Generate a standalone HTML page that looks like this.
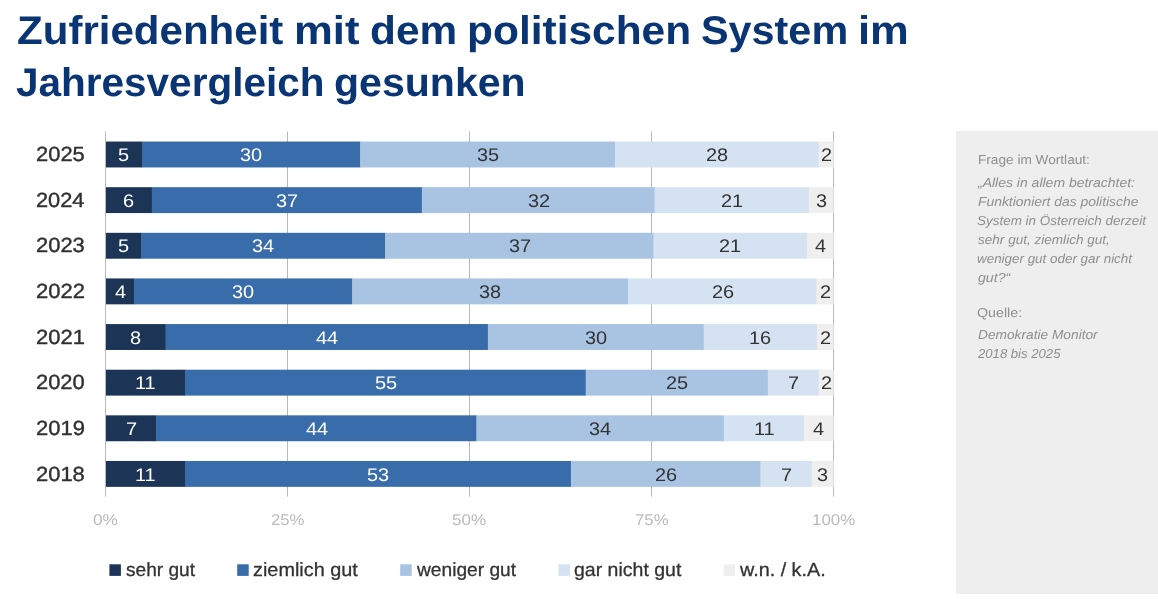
<!DOCTYPE html>
<html lang="de"><head><meta charset="utf-8"><title>Zufriedenheit mit dem politischen System im Jahresvergleich gesunken</title>
<style>
html,body{margin:0;padding:0;background:#fff;}
body{width:1158px;height:599px;position:relative;overflow:hidden;font-family:"Liberation Sans",sans-serif;}
.t{position:absolute;white-space:nowrap;line-height:1;transform-origin:0 0;text-rendering:geometricPrecision;}
svg{position:absolute;left:0;top:0;}
.side{position:absolute;left:956px;top:130.6px;width:202px;height:463.3px;background:#eeeeee;}
</style></head><body>
<div class="side"></div>
<svg width="1158" height="599" viewBox="0 0 1158 599">
<rect x="105.0" y="131.3" width="1" height="365.4" fill="#b9b9b9"/>
<rect x="287.0" y="131.3" width="1" height="365.4" fill="#b9b9b9"/>
<rect x="469.0" y="131.3" width="1" height="365.4" fill="#b9b9b9"/>
<rect x="651.0" y="131.3" width="1" height="365.4" fill="#b9b9b9"/>
<rect x="833.0" y="131.3" width="1" height="365.4" fill="#b9b9b9"/>
<rect x="106.00" y="141.55" width="36.26" height="25.9" fill="#1c3557"/>
<rect x="141.96" y="141.55" width="218.57" height="25.9" fill="#386cab"/>
<rect x="360.23" y="141.55" width="255.03" height="25.9" fill="#a9c3e2"/>
<rect x="614.96" y="141.55" width="204.08" height="25.9" fill="#d5e2f1"/>
<rect x="818.74" y="141.55" width="14.96" height="25.9" fill="#efefef"/>
<rect x="106.00" y="187.18" width="46.16" height="25.9" fill="#1c3557"/>
<rect x="151.86" y="187.18" width="270.31" height="25.9" fill="#386cab"/>
<rect x="421.87" y="187.18" width="233.05" height="25.9" fill="#a9c3e2"/>
<rect x="654.63" y="187.18" width="154.45" height="25.9" fill="#d5e2f1"/>
<rect x="808.77" y="187.18" width="24.93" height="25.9" fill="#efefef"/>
<rect x="106.00" y="232.81" width="35.32" height="25.9" fill="#1c3557"/>
<rect x="141.02" y="232.81" width="244.40" height="25.9" fill="#386cab"/>
<rect x="385.12" y="232.81" width="268.71" height="25.9" fill="#a9c3e2"/>
<rect x="653.53" y="232.81" width="153.57" height="25.9" fill="#d5e2f1"/>
<rect x="806.81" y="232.81" width="26.89" height="25.9" fill="#efefef"/>
<rect x="106.00" y="278.44" width="28.40" height="25.9" fill="#1c3557"/>
<rect x="134.10" y="278.44" width="218.42" height="25.9" fill="#386cab"/>
<rect x="352.22" y="278.44" width="276.14" height="25.9" fill="#a9c3e2"/>
<rect x="628.06" y="278.44" width="188.80" height="25.9" fill="#d5e2f1"/>
<rect x="816.56" y="278.44" width="17.14" height="25.9" fill="#efefef"/>
<rect x="106.00" y="324.07" width="59.92" height="25.9" fill="#1c3557"/>
<rect x="165.62" y="324.07" width="322.57" height="25.9" fill="#386cab"/>
<rect x="487.89" y="324.07" width="216.17" height="25.9" fill="#a9c3e2"/>
<rect x="703.75" y="324.07" width="113.55" height="25.9" fill="#d5e2f1"/>
<rect x="817.00" y="324.07" width="16.70" height="25.9" fill="#efefef"/>
<rect x="106.00" y="369.70" width="79.28" height="25.9" fill="#1c3557"/>
<rect x="184.98" y="369.70" width="401.03" height="25.9" fill="#386cab"/>
<rect x="585.70" y="369.70" width="182.40" height="25.9" fill="#a9c3e2"/>
<rect x="767.80" y="369.70" width="51.17" height="25.9" fill="#d5e2f1"/>
<rect x="818.67" y="369.70" width="15.03" height="25.9" fill="#efefef"/>
<rect x="106.00" y="415.33" width="50.38" height="25.9" fill="#1c3557"/>
<rect x="156.08" y="415.33" width="320.68" height="25.9" fill="#386cab"/>
<rect x="476.46" y="415.33" width="247.68" height="25.9" fill="#a9c3e2"/>
<rect x="723.84" y="415.33" width="80.36" height="25.9" fill="#d5e2f1"/>
<rect x="803.90" y="415.33" width="29.80" height="25.9" fill="#efefef"/>
<rect x="106.00" y="460.96" width="79.28" height="25.9" fill="#1c3557"/>
<rect x="184.98" y="460.96" width="386.25" height="25.9" fill="#386cab"/>
<rect x="570.93" y="460.96" width="189.89" height="25.9" fill="#a9c3e2"/>
<rect x="760.52" y="460.96" width="51.61" height="25.9" fill="#d5e2f1"/>
<rect x="811.83" y="460.96" width="21.87" height="25.9" fill="#efefef"/>
<rect x="109.4" y="564.3" width="11.5" height="11.6" fill="#1c3557"/>
<rect x="237.2" y="564.3" width="11.5" height="11.6" fill="#386cab"/>
<rect x="400.2" y="564.3" width="11.5" height="11.6" fill="#a9c3e2"/>
<rect x="558.4" y="564.3" width="11.5" height="11.6" fill="#d5e2f1"/>
<rect x="723.6" y="564.3" width="11.5" height="11.6" fill="#efefef"/>
</svg>
<span class="t" style="left:16.96px;top:10.90px;font-size:40px;color:#0a3575;transform:scaleX(1.0514);font-weight:bold;">Zufriedenheit</span>
<span class="t" style="left:294.35px;top:10.90px;font-size:40px;color:#0a3575;transform:scaleX(1.0914);font-weight:bold;">mit</span>
<span class="t" style="left:370.22px;top:10.90px;font-size:40px;color:#0a3575;transform:scaleX(1.0597);font-weight:bold;">dem</span>
<span class="t" style="left:466.60px;top:10.90px;font-size:40px;color:#0a3575;transform:scaleX(1.0618);font-weight:bold;">politischen</span>
<span class="t" style="left:701.38px;top:10.90px;font-size:40px;color:#0a3575;transform:scaleX(1.0341);font-weight:bold;">System</span>
<span class="t" style="left:857.60px;top:10.90px;font-size:40px;color:#0a3575;transform:scaleX(1.0886);font-weight:bold;">im</span>
<span class="t" style="left:16.48px;top:62.90px;font-size:40px;color:#0a3575;transform:scaleX(1.0125);font-weight:bold;">Jahresvergleich</span>
<span class="t" style="left:334.43px;top:62.90px;font-size:40px;color:#0a3575;transform:scaleX(1.0262);font-weight:bold;">gesunken</span>
<span class="t" style="left:35.56px;top:145.15px;font-size:20.5px;color:#303030;transform:scaleX(1.0692);-webkit-text-stroke:0.4px #303030;">2025</span>
<span class="t" style="left:118.37px;top:146.10px;font-size:18.3px;color:#ffffff;transform:scaleX(1.0900);">5</span>
<span class="t" style="left:240.09px;top:146.10px;font-size:18.3px;color:#ffffff;transform:scaleX(1.0900);">30</span>
<span class="t" style="left:476.64px;top:146.10px;font-size:18.3px;color:#333333;transform:scaleX(1.0900);">35</span>
<span class="t" style="left:705.90px;top:146.10px;font-size:18.3px;color:#333333;transform:scaleX(1.0900);">28</span>
<span class="t" style="left:820.71px;top:146.10px;font-size:18.3px;color:#333333;transform:scaleX(1.0900);">2</span>
<span class="t" style="left:35.85px;top:190.78px;font-size:20.5px;color:#303030;transform:scaleX(1.0629);-webkit-text-stroke:0.4px #303030;">2024</span>
<span class="t" style="left:123.35px;top:191.73px;font-size:18.3px;color:#ffffff;transform:scaleX(1.0900);">6</span>
<span class="t" style="left:275.97px;top:191.73px;font-size:18.3px;color:#ffffff;transform:scaleX(1.0900);">37</span>
<span class="t" style="left:527.67px;top:191.73px;font-size:18.3px;color:#333333;transform:scaleX(1.0900);">32</span>
<span class="t" style="left:720.77px;top:191.73px;font-size:18.3px;color:#333333;transform:scaleX(1.0900);">21</span>
<span class="t" style="left:815.70px;top:191.73px;font-size:18.3px;color:#333333;transform:scaleX(1.0900);">3</span>
<span class="t" style="left:35.84px;top:236.41px;font-size:20.5px;color:#303030;transform:scaleX(1.0704);-webkit-text-stroke:0.4px #303030;">2023</span>
<span class="t" style="left:117.90px;top:237.36px;font-size:18.3px;color:#ffffff;transform:scaleX(1.0900);">5</span>
<span class="t" style="left:251.93px;top:237.36px;font-size:18.3px;color:#ffffff;transform:scaleX(1.0900);">34</span>
<span class="t" style="left:508.81px;top:237.36px;font-size:18.3px;color:#333333;transform:scaleX(1.0900);">37</span>
<span class="t" style="left:719.24px;top:237.36px;font-size:18.3px;color:#333333;transform:scaleX(1.0900);">21</span>
<span class="t" style="left:814.87px;top:237.36px;font-size:18.3px;color:#333333;transform:scaleX(1.0900);">4</span>
<span class="t" style="left:35.72px;top:282.04px;font-size:20.5px;color:#303030;transform:scaleX(1.0736);-webkit-text-stroke:0.4px #303030;">2022</span>
<span class="t" style="left:114.62px;top:282.99px;font-size:18.3px;color:#ffffff;transform:scaleX(1.0900);">4</span>
<span class="t" style="left:232.15px;top:282.99px;font-size:18.3px;color:#ffffff;transform:scaleX(1.0900);">30</span>
<span class="t" style="left:479.19px;top:282.99px;font-size:18.3px;color:#333333;transform:scaleX(1.0900);">38</span>
<span class="t" style="left:711.71px;top:282.99px;font-size:18.3px;color:#333333;transform:scaleX(1.0900);">26</span>
<span class="t" style="left:819.62px;top:282.99px;font-size:18.3px;color:#333333;transform:scaleX(1.0900);">2</span>
<span class="t" style="left:35.56px;top:327.67px;font-size:20.5px;color:#303030;transform:scaleX(1.0712);-webkit-text-stroke:0.4px #303030;">2021</span>
<span class="t" style="left:130.30px;top:328.62px;font-size:18.3px;color:#ffffff;transform:scaleX(1.0900);">8</span>
<span class="t" style="left:315.97px;top:328.62px;font-size:18.3px;color:#ffffff;transform:scaleX(1.0900);">44</span>
<span class="t" style="left:584.81px;top:328.62px;font-size:18.3px;color:#333333;transform:scaleX(1.0900);">30</span>
<span class="t" style="left:749.28px;top:328.62px;font-size:18.3px;color:#333333;transform:scaleX(1.0900);">16</span>
<span class="t" style="left:819.84px;top:328.62px;font-size:18.3px;color:#333333;transform:scaleX(1.0900);">2</span>
<span class="t" style="left:35.64px;top:373.30px;font-size:20.5px;color:#303030;transform:scaleX(1.0675);-webkit-text-stroke:0.4px #303030;">2020</span>
<span class="t" style="left:135.01px;top:374.25px;font-size:18.3px;color:#ffffff;transform:scaleX(1.0900);">11</span>
<span class="t" style="left:374.69px;top:374.25px;font-size:18.3px;color:#ffffff;transform:scaleX(1.0900);">55</span>
<span class="t" style="left:665.80px;top:374.25px;font-size:18.3px;color:#333333;transform:scaleX(1.0900);">25</span>
<span class="t" style="left:787.86px;top:374.25px;font-size:18.3px;color:#333333;transform:scaleX(1.0900);">7</span>
<span class="t" style="left:820.68px;top:374.25px;font-size:18.3px;color:#333333;transform:scaleX(1.0900);">2</span>
<span class="t" style="left:35.73px;top:418.93px;font-size:20.5px;color:#303030;transform:scaleX(1.0727);-webkit-text-stroke:0.4px #303030;">2019</span>
<span class="t" style="left:125.72px;top:419.88px;font-size:18.3px;color:#ffffff;transform:scaleX(1.0900);">7</span>
<span class="t" style="left:305.85px;top:419.88px;font-size:18.3px;color:#ffffff;transform:scaleX(1.0900);">44</span>
<span class="t" style="left:589.01px;top:419.88px;font-size:18.3px;color:#333333;transform:scaleX(1.0900);">34</span>
<span class="t" style="left:753.64px;top:419.88px;font-size:18.3px;color:#333333;transform:scaleX(1.0900);">11</span>
<span class="t" style="left:813.42px;top:419.88px;font-size:18.3px;color:#333333;transform:scaleX(1.0900);">4</span>
<span class="t" style="left:35.73px;top:464.56px;font-size:20.5px;color:#303030;transform:scaleX(1.0703);-webkit-text-stroke:0.4px #303030;">2018</span>
<span class="t" style="left:135.01px;top:465.51px;font-size:18.3px;color:#ffffff;transform:scaleX(1.0900);">11</span>
<span class="t" style="left:367.00px;top:465.51px;font-size:18.3px;color:#ffffff;transform:scaleX(1.0900);">53</span>
<span class="t" style="left:654.79px;top:465.51px;font-size:18.3px;color:#333333;transform:scaleX(1.0900);">26</span>
<span class="t" style="left:780.80px;top:465.51px;font-size:18.3px;color:#333333;transform:scaleX(1.0900);">7</span>
<span class="t" style="left:817.22px;top:465.51px;font-size:18.3px;color:#333333;transform:scaleX(1.0900);">3</span>
<span class="t" style="left:93.32px;top:513.20px;font-size:15.5px;color:#bbbbbb;transform:scaleX(1.1090);">0%</span>
<span class="t" style="left:270.90px;top:513.20px;font-size:15.5px;color:#bbbbbb;transform:scaleX(1.0785);">25%</span>
<span class="t" style="left:452.08px;top:513.20px;font-size:15.5px;color:#bbbbbb;transform:scaleX(1.0988);">50%</span>
<span class="t" style="left:635.31px;top:513.20px;font-size:15.5px;color:#bbbbbb;transform:scaleX(1.0813);">75%</span>
<span class="t" style="left:812.22px;top:513.20px;font-size:15.5px;color:#bbbbbb;transform:scaleX(1.0918);">100%</span>
<span class="t" style="left:125.87px;top:561.00px;font-size:19px;color:#333333;transform:scaleX(1.0057);-webkit-text-stroke:0.3px #333333;">sehr gut</span>
<span class="t" style="left:253.08px;top:561.00px;font-size:19px;color:#333333;transform:scaleX(1.0448);-webkit-text-stroke:0.3px #333333;">ziemlich gut</span>
<span class="t" style="left:416.68px;top:561.00px;font-size:19px;color:#333333;transform:scaleX(1.0087);-webkit-text-stroke:0.3px #333333;">weniger gut</span>
<span class="t" style="left:574.16px;top:561.00px;font-size:19px;color:#333333;transform:scaleX(1.0268);-webkit-text-stroke:0.3px #333333;">gar nicht gut</span>
<span class="t" style="left:740.20px;top:561.00px;font-size:19px;color:#333333;transform:scaleX(1.0400);-webkit-text-stroke:0.3px #333333;">w.n. / k.A.</span>
<span class="t" style="left:977.79px;top:153.10px;font-size:13px;color:#8e8e8e;transform:scaleX(1.0488);">Frage im Wortlaut:</span>
<span class="t" style="left:978.20px;top:176.35px;font-size:13px;color:#8e8e8e;transform:scaleX(1.0756);font-style:italic;">„Alles in allem betrachtet:</span>
<span class="t" style="left:977.53px;top:195.15px;font-size:13px;color:#8e8e8e;transform:scaleX(1.0671);font-style:italic;">Funktioniert das politische</span>
<span class="t" style="left:977.36px;top:214.25px;font-size:13px;color:#8e8e8e;transform:scaleX(1.0344);font-style:italic;">System in Österreich derzeit</span>
<span class="t" style="left:977.74px;top:233.45px;font-size:13px;color:#8e8e8e;transform:scaleX(1.0426);font-style:italic;">sehr gut, ziemlich gut,</span>
<span class="t" style="left:977.43px;top:252.45px;font-size:13px;color:#8e8e8e;transform:scaleX(1.0311);font-style:italic;">weniger gut oder gar nicht</span>
<span class="t" style="left:977.54px;top:271.45px;font-size:13px;color:#8e8e8e;transform:scaleX(1.0891);font-style:italic;">gut?“</span>
<span class="t" style="left:977.35px;top:305.50px;font-size:13px;color:#8e8e8e;transform:scaleX(1.0962);">Quelle:</span>
<span class="t" style="left:977.58px;top:328.45px;font-size:13px;color:#8e8e8e;transform:scaleX(1.0552);font-style:italic;">Demokratie Monitor</span>
<span class="t" style="left:978.00px;top:347.35px;font-size:13px;color:#8e8e8e;transform:scaleX(1.0091);font-style:italic;">2018 bis 2025</span>
</body></html>
